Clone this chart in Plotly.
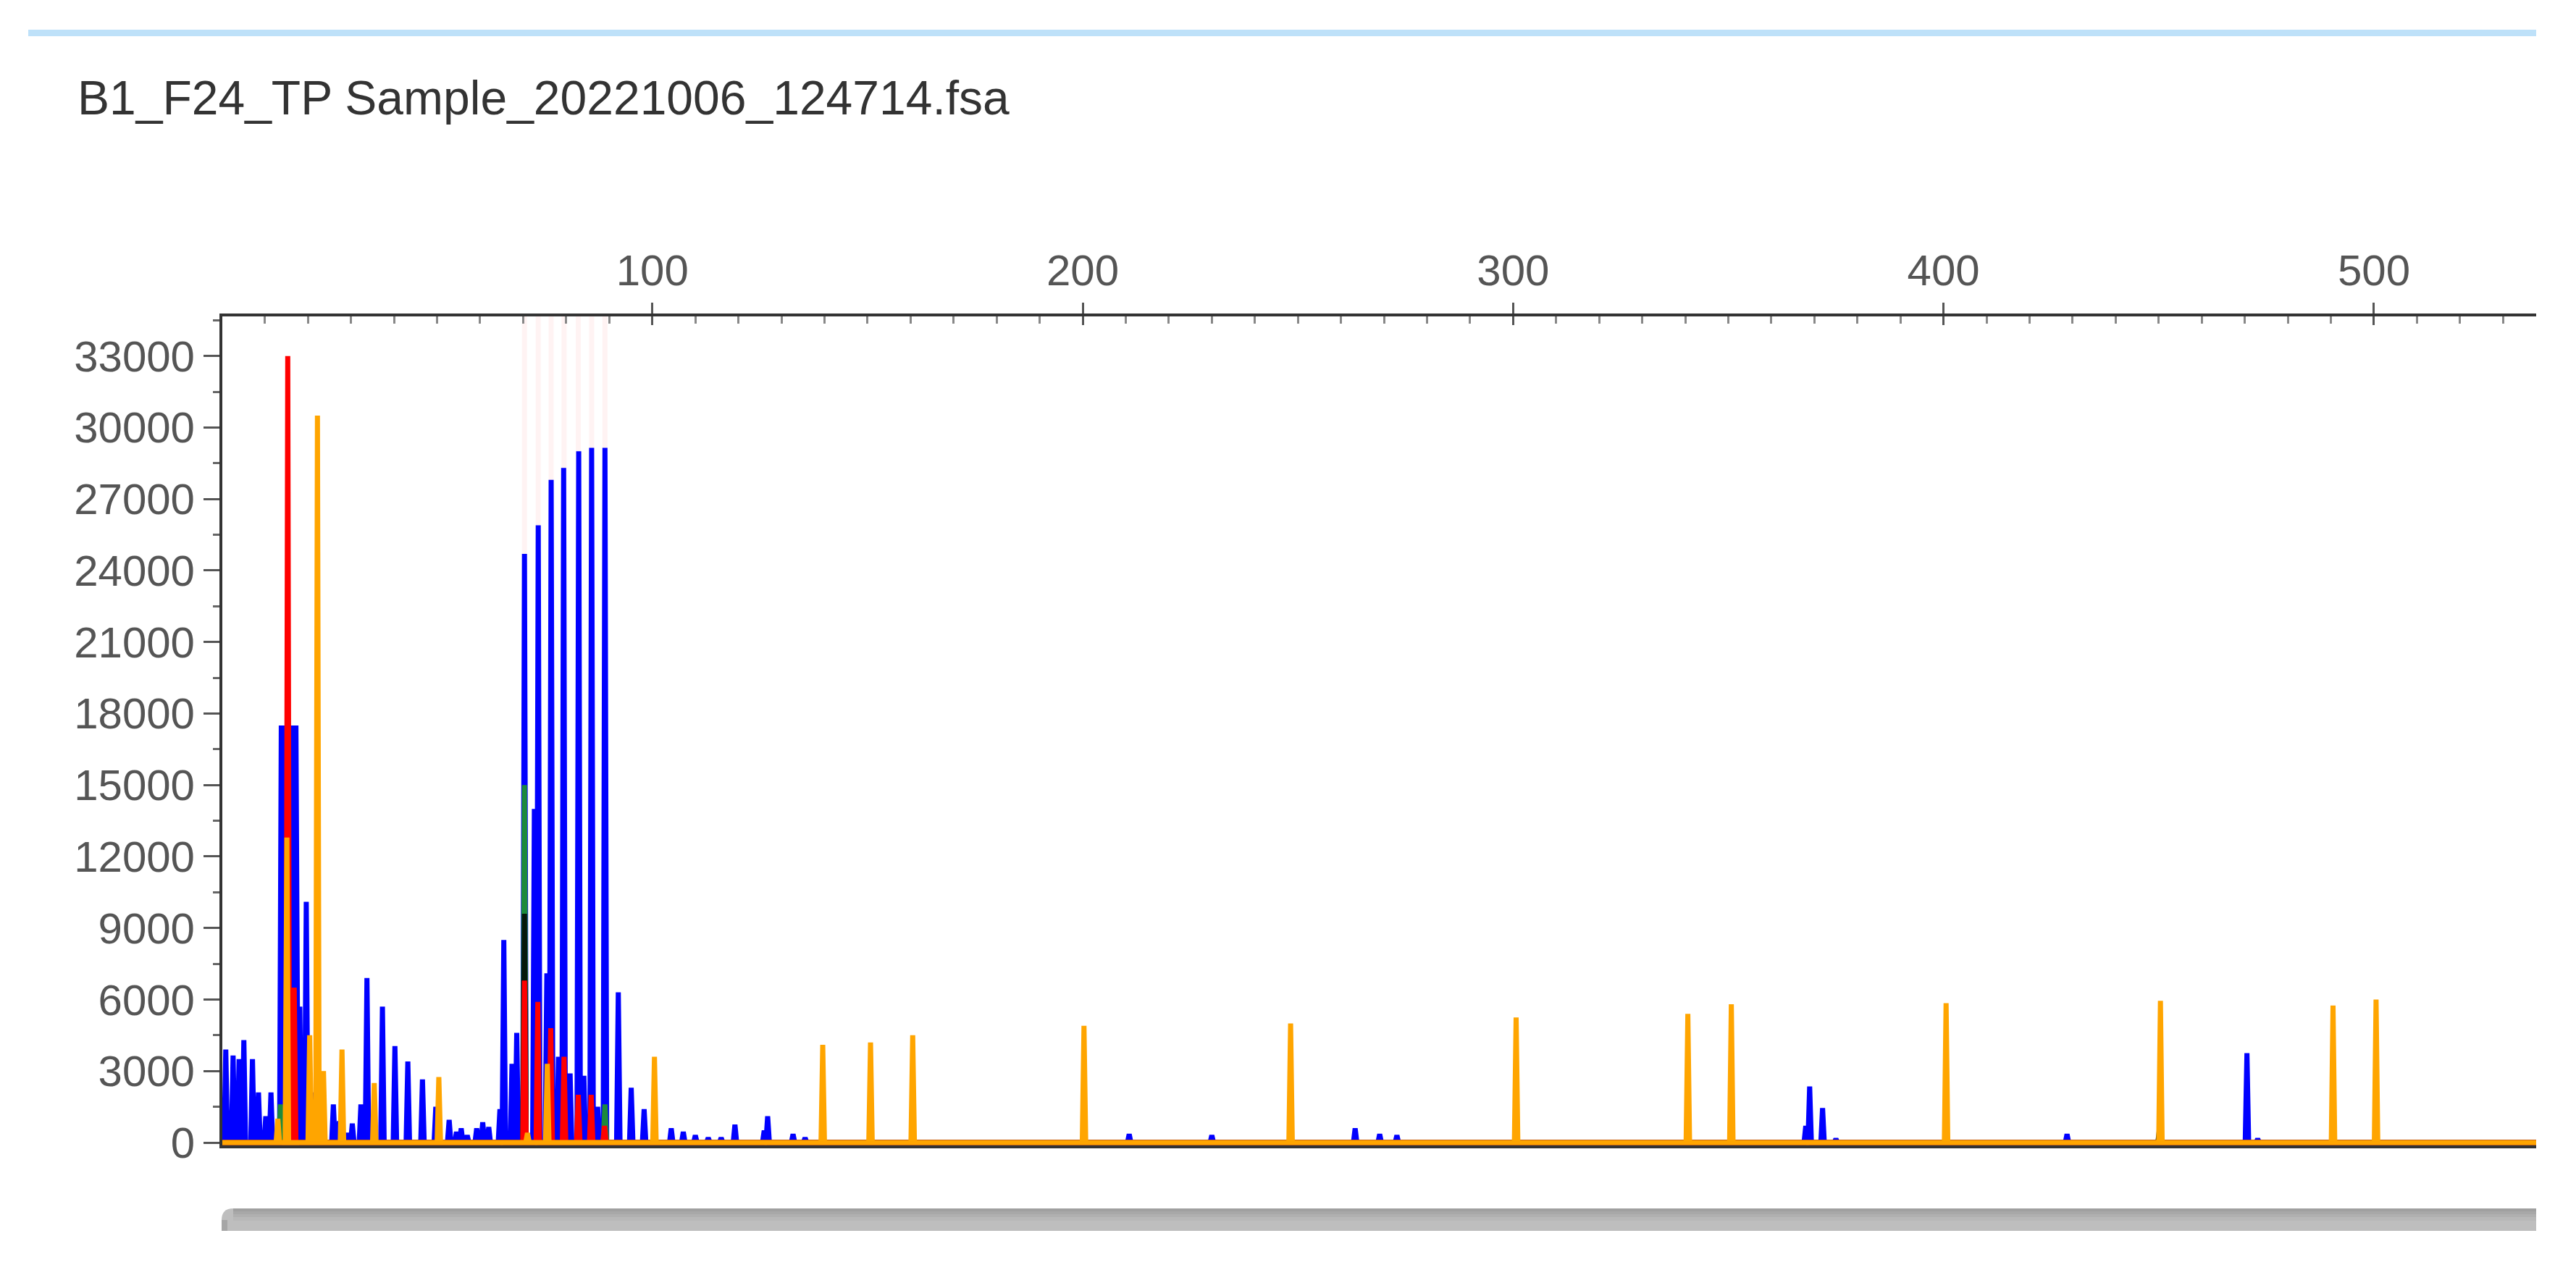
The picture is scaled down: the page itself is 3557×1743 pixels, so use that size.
import plotly.graph_objects as go

# ---------------- data ----------------
TITLE = "B1_F24_TP Sample_20221006_124714.fsa"

X_RANGE = [0.1, 537.7]
Y_RANGE = [-120, 34660]

blue_pos = [0.9, 2.6, 4.0, 5.1, 7.1, 8.5, 10.2, 11.4, 13.8, 14.6, 15.5, 16.4, 17.2, 18.1, 19.6,
            21.7, 22.8, 25.9, 27.3, 29.2, 30.3, 32.3, 33.7, 37.3, 40.2, 43.2, 46.6,
            49.7, 52.8, 54.5, 55.6, 57.0, 59.2, 60.6, 62.0, 64.6, 65.5, 67.4, 68.5,
            70.3, 72.6, 73.5, 75.5, 76.5, 78.2, 79.4, 80.9, 82.9, 84.1, 85.9, 87.3,
            89.0, 92.1, 95.1, 98.1, 104.4, 107.2, 110.0, 113.0, 116.0, 119.2, 126.0,
            126.8, 132.7, 135.5, 210.8, 230.0, 263.3, 269.0, 273.0, 368.0, 368.9,
            371.9, 375.0, 428.7, 470.5, 473.0]
blue_height = [3900, 3650, 3500, 4300, 3500, 2100, 1100, 2100, 17500, 17500, 17500, 17500, 17500, 5700, 10100,
               2100, 2500, 1600, 900, 400, 800, 1600, 6900, 5700, 4050, 3400, 2650,
               1500, 950, 450, 600, 300, 600, 850, 650, 1400, 8500, 3300, 4600,
               24700, 14000, 25900, 7100, 27800, 3600, 28300, 2900, 29000, 2800, 29150, 1500,
               29150, 6300, 2300, 1400, 600, 450, 300, 200, 200, 750, 500,
               1100, 350, 200, 350, 300, 600, 350, 300, 700, 2350,
               1450, 150, 350, 3750, 150]

green_pos = [13.6, 70.3, 89.0]
green_height = [1600, 15000, 1600]

black_pos = [70.3, 450.2]
black_height = [9600, 600]

red_pos = [15.3, 16.8, 22.0, 70.3, 73.4, 76.4, 79.5, 82.8, 85.8, 88.9]
red_height = [33000, 6500, 400, 6800, 5900, 4800, 3600, 2000, 2000, 700]

orange_pos = [13.0, 15.1, 20.4, 22.2, 23.6, 27.9, 35.4, 50.4, 71.0, 75.6, 100.5,
              139.6, 150.7, 160.5, 200.3, 248.3, 300.7, 340.6, 350.7, 400.6,
              450.4, 490.5, 500.5]
orange_height = [1000, 12800, 4500, 30500, 3000, 3900, 2500, 2750, 400, 3300, 3600,
                 4100, 4200, 4500, 4900, 5000, 5250, 5400, 5800, 5850,
                 5950, 5750, 6000]

bins = [70.3, 73.5, 76.5, 79.5, 82.8, 85.9, 89.0]

# ---------------- geometry / style ----------------
W, H = 3557, 1743
PL, PR, PT, PB = 307, 3502, 437, 1582   # plot area in page pixels
FONT = "Liberation Sans, Arial, Helvetica, sans-serif"


def fx(X):
    return (X - PL) / (PR - PL)


def fy(Y):
    return (PB - Y) / (PB - PT)


def trace_points(pos, height, a=0.4):
    xs, ys = [X_RANGE[0]], [0]
    for p, v in sorted(zip(pos, height)):
        xs += [p - a, p, p + a]
        ys += [0, v, 0]
    xs.append(X_RANGE[1])
    ys.append(0)
    return xs, ys


fig = go.Figure()

channels = [
    ("blue", blue_pos, blue_height, "#0000FF"),
    ("green", green_pos, green_height, "#1C8A3C"),
    ("black", black_pos, black_height, "#06170C"),
    ("red", red_pos, red_height, "#FF0000"),
    ("orange", orange_pos, orange_height, "#FFA500"),
]
for name, pos, hgt, col in channels:
    xs, ys = trace_points(pos, hgt)
    fig.add_trace(go.Scatter(x=xs, y=ys, mode="lines", name=name,
                             line=dict(color=col, width=7), hoverinfo="skip"))

# helper trace for the overlay axis (inner half of major ticks)
fig.add_trace(go.Scatter(x=X_RANGE, y=[0, 0], xaxis="x2", mode="markers",
                         marker=dict(opacity=0), hoverinfo="skip", showlegend=False))

shapes = []
for b in bins:
    shapes.append(dict(type="line", xref="x", yref="paper", x0=b, x1=b, y0=0, y1=1,
                       line=dict(color="rgba(255,220,220,0.35)", width=7), layer="below"))

# top light-blue bar
shapes.append(dict(type="rect", xref="paper", yref="paper",
                   x0=fx(39), x1=fx(3502), y0=fy(50), y1=fy(41),
                   fillcolor="#BEE1F9", line=dict(width=0), layer="above"))

# bottom scrollbar (rounded top-left corner, vertical grey gradient)
sx0, sx1, sy0, sy1, rad = 306, 3502, 1669, 1700, 16
path = (f"M {fx(sx0)},{fy(sy1)} L {fx(sx0)},{fy(sy0 + rad)} "
        f"Q {fx(sx0)},{fy(sy0)} {fx(sx0 + rad)},{fy(sy0)} "
        f"L {fx(sx1)},{fy(sy0)} L {fx(sx1)},{fy(sy1)} Z")
shapes.append(dict(type="path", xref="paper", yref="paper", path=path,
                   fillcolor="#BEBEBE", line=dict(width=0), layer="above"))
bands = [(sy0, sy0 + 4, "#A0A0A0"), (sy0 + 4, sy0 + 8, "#A8A8A8"),
         (sy0 + 8, sy0 + 12, "#B0B0B0"), (sy0 + 12, sy0 + 17, "#B8B8B8")]
for y0, y1, c in bands:
    shapes.append(dict(type="rect", xref="paper", yref="paper",
                       x0=fx(sx0 + rad), x1=fx(sx1), y0=fy(y1), y1=fy(y0),
                       fillcolor=c, line=dict(width=0), layer="above"))
shapes.append(dict(type="rect", xref="paper", yref="paper",
                   x0=fx(sx0), x1=fx(sx0 + 8), y0=fy(sy1), y1=fy(sy0 + rad),
                   fillcolor="#A6A6A6", line=dict(width=0), layer="above"))

annotations = [dict(text=TITLE, xref="paper", yref="paper", x=fx(105), y=fy(135),
                    xanchor="left", yanchor="middle", showarrow=False,
                    font=dict(family=FONT, size=66, color="#333333"))]

fig.update_layout(
    width=W, height=H,
    margin=dict(l=PL, r=W - PR, t=PT, b=H - PB, pad=0),
    paper_bgcolor="white", plot_bgcolor="white", showlegend=False,
    font=dict(family=FONT, size=60, color="#555555"),
    shapes=shapes, annotations=annotations,
    xaxis=dict(side="top", range=X_RANGE, tickmode="linear", tick0=0, dtick=100,
               ticks="outside", ticklen=15, tickwidth=3, tickcolor="#555555",
               showline=True, linecolor="#333333", linewidth=4, mirror=True,
               showgrid=False, zeroline=False,
               tickfont=dict(family=FONT, size=60, color="#555555"),
               minor=dict(tick0=0, dtick=10, ticks="inside", ticklen=10, tickwidth=3,
                          tickcolor="#888888", showgrid=False)),
    xaxis2=dict(overlaying="x", side="top", range=X_RANGE, tickmode="linear", tick0=0,
                dtick=100, ticks="inside", ticklen=12, tickwidth=3, tickcolor="#555555",
                showticklabels=False, showline=False, showgrid=False, zeroline=False),
    yaxis=dict(range=Y_RANGE, tickmode="linear", tick0=0, dtick=3000, tickformat="d",
               ticks="outside", ticklen=22, tickwidth=3, tickcolor="#555555",
               showline=True, linecolor="#333333", linewidth=4,
               showgrid=False, zeroline=False,
               tickfont=dict(family=FONT, size=60, color="#555555"),
               minor=dict(tick0=0, dtick=1500, ticks="outside", ticklen=9, tickwidth=3,
                          tickcolor="#666666", showgrid=False)),
)

fig.write_html("out.html", config={"displayModeBar": False},
               post_script="document.body.style.margin='0';")
